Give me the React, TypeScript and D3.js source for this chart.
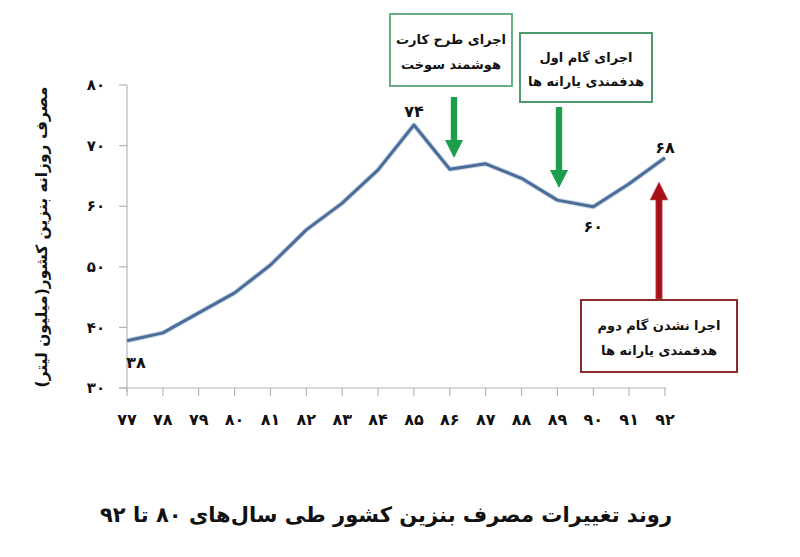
import React from "react";
import * as d3 from "d3";

const years = [77, 78, 79, 80, 81, 82, 83, 84, 85, 86, 87, 88, 89, 90, 91, 92];
const consumption = [37.8, 39.1, 42.4, 45.7, 50.3, 56.1, 60.5, 66.0, 73.4, 66.1, 67.0, 64.6, 61.0, 59.9, 63.7, 68.0];
const yTicks = [30, 40, 50, 60, 70, 80];
const pointLabels = [
  { year: 77, text: "38", dx: 9, dy: 22 },
  { year: 85, text: "74", dx: 0, dy: -14 },
  { year: 90, text: "60", dx: 0, dy: 20 },
  { year: 92, text: "68", dx: 0, dy: -10 },
];
const title = "روند تغییرات مصرف بنزین کشور طی سال‌های 80 تا 92";
const yTitle = "مصرف روزانه بنزین کشور(میلیون لیتر)";
const notes = [
  { year: 86, lines: ["اجرای طرح کارت", "هوشمند سوخت"], kind: "green" },
  { year: 89, lines: ["اجرای گام اول", "هدفمندی یارانه ها"], kind: "green" },
  { year: 92, lines: ["اجرا نشدن  گام دوم", "هدفمندی یارانه ها"], kind: "red" },
];

const fa = (s: string | number) => String(s).replace(/[0-9]/g, (d) => "۰۱۲۳۴۵۶۷۸۹"[+d]);
const FONT = "'DejaVu Sans', sans-serif";

export default function App() {
  const x = d3.scalePoint<number>().domain(years).range([127, 665]);
  const y = d3.scaleLinear().domain([30, 80]).range([388, 85]);
  const line = d3
    .line<number>()
    .x((_, i) => x(years[i]) as number)
    .y((d) => y(d));
  const path = line(consumption) || "";

  // annotation layout
  const boxes = [
    { x0: 390, y0: 14, w: 122, h: 72, arrowX: 454, aTop: 97, aTip: 158, border: "#6aae84", arrow: "#1c9e4c", up: false },
    { x0: 520, y0: 33, w: 132, h: 69, arrowX: 559, aTop: 107, aTip: 188, border: "#4f9a6c", arrow: "#1c9e4c", up: false },
    { x0: 581, y0: 300, w: 156, h: 72, arrowX: 659, aTop: 182, aTip: 299, border: "#8c2a2a", arrow: "#a50f18", up: true },
  ];

  const arrow = (b: typeof boxes[0], i: number) => {
    const hw = 9;
    const hl = 18;
    const sw = 3.2;
    const cx = b.arrowX;
    let d: string;
    if (!b.up) {
      const tip = b.aTip;
      const base = tip - hl;
      d = `M${cx - sw},${b.aTop} L${cx + sw},${b.aTop} L${cx + sw},${base} L${cx + hw},${base} L${cx},${tip} L${cx - hw},${base} L${cx - sw},${base} Z`;
    } else {
      const tip = b.aTop;
      const base = tip + hl;
      d = `M${cx - sw},${b.aTip} L${cx + sw},${b.aTip} L${cx + sw},${base} L${cx + hw},${base} L${cx},${tip} L${cx - hw},${base} L${cx - sw},${base} Z`;
    }
    return <path key={"a" + i} d={d} fill={b.arrow} stroke={b.up ? "#d06060" : "none"} strokeWidth={0.6} />;
  };

  return (
    <svg
      width={800}
      height={557}
      style={{ position: "absolute", left: 0, top: 0, background: "#fff" }}
      fontFamily={FONT}
    >
      <rect x={0} y={0} width={800} height={557} fill="#fff" />
      {/* axes */}
      <line x1={127} x2={127} y1={85} y2={392} stroke="#b5b5b5" strokeWidth={1.2} />
      {yTicks.map((t) => (
        <g key={t}>
          <line x1={119} x2={127} y1={y(t)} y2={y(t)} stroke="#b5b5b5" strokeWidth={1.2} />
          <text x={96} y={y(t)} dy="0.35em" textAnchor="middle" fontSize={15} fontWeight="bold" fill="#111">
            {fa(t)}
          </text>
        </g>
      ))}
      <line x1={119} x2={666} y1={388} y2={388} stroke="#b5b5b5" strokeWidth={1.2} />
      {years.map((yr) => (
        <g key={yr}>
          <line x1={x(yr)} x2={x(yr)} y1={388} y2={396} stroke="#b5b5b5" strokeWidth={1.2} />
          <text x={x(yr)} y={419} dy="0.35em" textAnchor="middle" fontSize={16} fontWeight="bold" fill="#111">
            {fa(yr)}
          </text>
        </g>
      ))}
      <text
        transform={`translate(42,237) rotate(-90)`}
        textAnchor="middle"
        dy="0.35em"
        fontSize={15.5}
        fontWeight="bold"
        fill="#111"
        direction="rtl"
      >
        {yTitle}
      </text>

      {/* series */}
      <path d={path} fill="none" stroke="#c9d6e6" strokeWidth={5} strokeLinejoin="round" />
      <path d={path} fill="none" stroke="#4b6e99" strokeWidth={3} strokeLinejoin="round" />

      {pointLabels.map((p) => {
        const i = years.indexOf(p.year);
        return (
          <text
            key={p.year}
            x={(x(p.year) as number) + p.dx}
            y={y(consumption[i]) + p.dy}
            dy="0.35em"
            textAnchor="middle"
            fontSize={16}
            fontWeight="bold"
            fill="#111"
          >
            {fa(p.text)}
          </text>
        );
      })}

      {/* annotations */}
      {boxes.map((b, i) => arrow(b, i))}
      {boxes.map((b, i) => (
        <g key={"b" + i}>
          <rect x={b.x0} y={b.y0} width={b.w} height={b.h} fill="#fff" stroke={b.border} strokeWidth={2} />
          {notes[i].lines.map((ln, j) => (
            <text
              key={j}
              x={b.x0 + b.w / 2}
              y={b.y0 + b.h * (j === 0 ? 0.36 : 0.7)}
              dy="0.35em"
              textAnchor="middle"
              fontSize={13}
              fontWeight="bold"
              fill="#111"
              direction="rtl"
            >
              {ln}
            </text>
          ))}
        </g>
      ))}

      {/* title */}
      <text x={386} y={515} dy="0.35em" textAnchor="middle" fontSize={21} fontWeight="bold" fill="#111" direction="rtl">
        {fa(title)}
      </text>
    </svg>
  );
}
